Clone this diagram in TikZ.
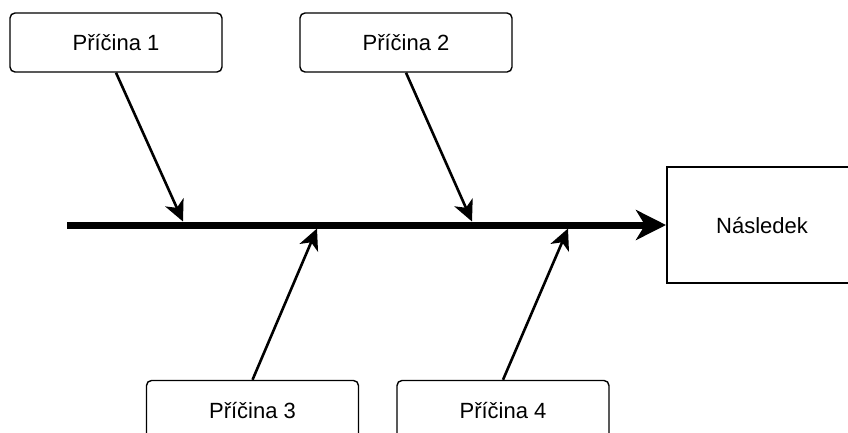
\documentclass[tikz,border=0pt]{standalone}
\usepackage{fontspec}
\setmainfont{Liberation Sans}
\usetikzlibrary{arrows.meta}
\begin{document}
\begin{tikzpicture}[x=1pt,y=-1pt,
  cause/.style={draw=black, line width=1.4pt, rounded corners=5pt, fill=white,
    minimum width=212pt, minimum height=59pt, inner sep=0pt,
    font=\fontsize{22}{26}\selectfont},
  effect/.style={draw=black, line width=2pt, fill=white,
    minimum width=190pt, minimum height=116pt, inner sep=0pt,
    font=\fontsize{22}{26}\selectfont},
  spine/.style={line width=7pt, -{Stealth[length=30pt, width=30pt, inset=9pt]}},
  bone/.style={line width=2.6pt, -{Stealth[length=21pt, width=20pt, inset=6pt]}}]
\useasboundingbox (0,0) rectangle (848,432);
\clip (0,0) rectangle (848,432);
\fill[white] (0,0) rectangle (848,432);
\node[cause] (c1) at (116,42.5) {Příčina 1};
\node[cause] (c2) at (406,42.5) {Příčina 2};
\node[cause] (c3) at (252.5,410) {Příčina 3};
\node[cause] (c4) at (503,410) {Příčina 4};
\node[effect] (eff) at (762,225) {Následek};
\coordinate (s0) at (67,225);
\coordinate (t1) at (183,221.5);
\coordinate (t2) at (472,221.5);
\coordinate (t3) at (317,228.5);
\coordinate (t4) at (568,228.5);
\draw[spine] (s0) -- (eff.west);
\draw[bone] (c1.south) -- (t1);
\draw[bone] (c2.south) -- (t2);
\draw[bone] (c3.north) -- (t3);
\draw[bone] (c4.north) -- (t4);
\end{tikzpicture}
\end{document}
